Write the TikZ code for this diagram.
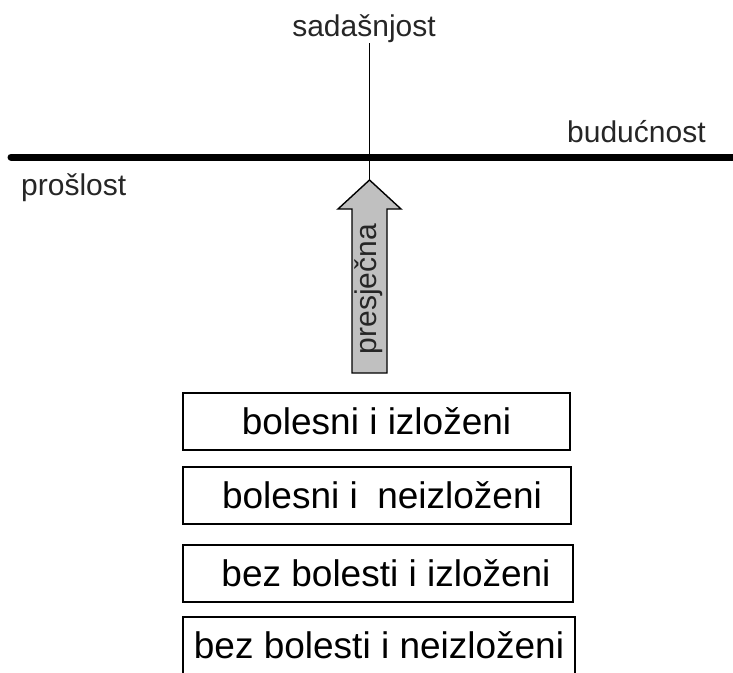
\documentclass[tikz,border=0pt]{standalone}
\usepackage{fontspec}
\setmainfont{Liberation Sans}
\definecolor{arrowgray}{RGB}{192,192,192}
\begin{document}
\begin{tikzpicture}[x=1pt,y=-1pt,
  lbl/.style={inner sep=0pt, font=\fontsize{30}{36}\selectfont, text=black!85},
  stagebox/.style={draw=black, line width=1.4pt, rectangle, inner sep=0pt,
    minimum height=57pt, font=\fontsize{37}{44}\selectfont},
]
\useasboundingbox (0,0) rectangle (733,672);
% time line
\coordinate (tl) at (11,157);
\coordinate (tr) at (750,157);
\draw[line width=7pt, line cap=round] (tl) -- (tr);
% labels
\node[lbl, anchor=base] (sad) at (364,36) {sadašnjost};
\node[lbl, anchor=base west] (bud) at (567,142) {budućnost};
\node[lbl, anchor=base west] (pro) at (21,195) {prošlost};
% arrow
\coordinate (tip) at (369.5,180);
\coordinate (top) at (369.5,43);
\draw[line width=1.4pt, fill=arrowgray, line join=miter]
  (tip) -- (401,209) -- (387,209) -- (387,373) -- (352,373) -- (352,209) -- (338,209) -- cycle;
\draw[line width=1.4pt] (top) -- (tip);
\node[lbl, rotate=90] (pres) at (369,289) {presječna};
% boxes
\node[stagebox, minimum width=387pt] (b1) at (376.5,421.5) {bolesni i izloženi};
\node[stagebox, minimum width=388pt] (b2) at (377,495.5) {\hspace{10pt}bolesni i\hspace{0.25em} neizloženi};
\node[stagebox, minimum width=390pt] (b3) at (378,573.5) {\hspace{16pt}bez bolesti i izloženi};
\node[stagebox, minimum width=392pt] (b4) at (379,645.5) {bez bolesti i neizloženi};
\end{tikzpicture}
\end{document}
